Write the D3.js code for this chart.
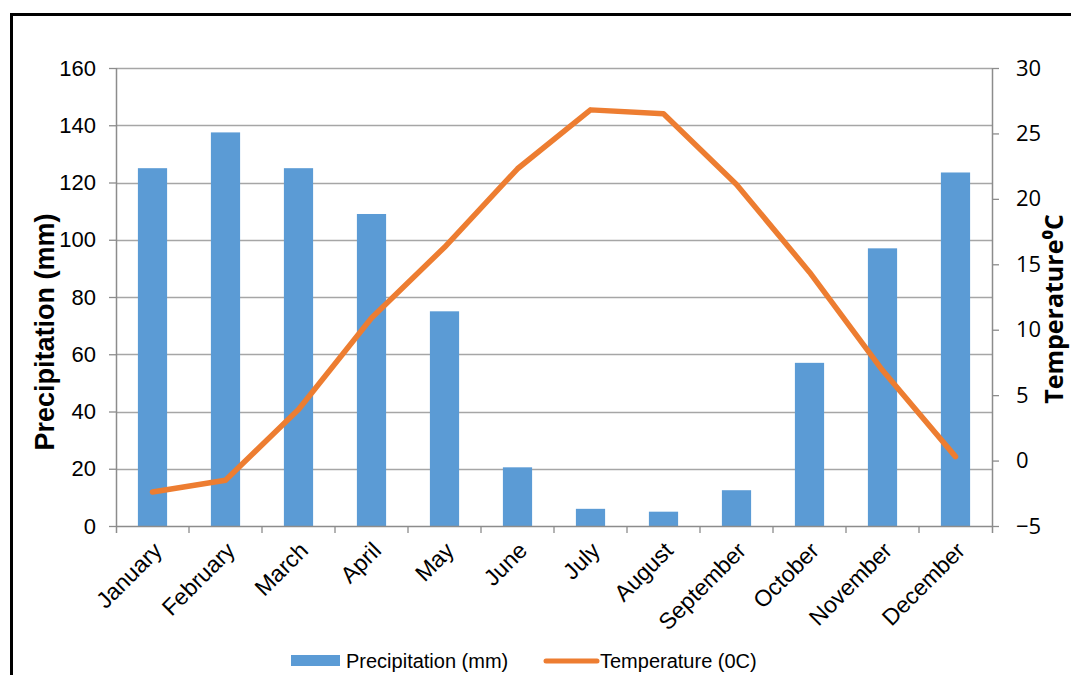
<!DOCTYPE html>
<html>
<head>
<meta charset="utf-8">
<script src="https://cdn.jsdelivr.net/npm/d3@7"></script>
<style>
  html, body { margin: 0; padding: 0; background: #fff; }
  svg { display: block; }
</style>
</head>
<body>
<svg id="chart" width="1071" height="675"></svg>
<script>
// Monthly climate data
const months = ["January", "February", "March", "April", "May", "June",
                "July", "August", "September", "October", "November", "December"];
const precipitation = [125, 137.5, 125, 109, 75, 20.5, 6, 5, 12.5, 57, 97, 123.5];
const temperature = [-2.4, -1.5, 3.9, 10.9, 16.3, 22.3, 26.8, 26.5, 21.1, 14.4, 6.9, 0.3];
const precipTicks = [0, 20, 40, 60, 80, 100, 120, 140, 160];
const tempTicks = [-5, 0, 5, 10, 15, 20, 25, 30];

const svg = d3.select("#chart");
const plotLeft = 116, plotRight = 992, plotTop = 68, plotBottom = 526;
const sans = "'Liberation Sans', Arial, sans-serif";
const altSans = "'Open Sans', 'Liberation Sans', sans-serif";

// Frame lines
svg.append("line").attr("x1", 10).attr("x2", 1071).attr("y1", 14.5).attr("y2", 14.5)
  .attr("stroke", "#000").attr("stroke-width", 3);
svg.append("line").attr("x1", 11.5).attr("x2", 11.5).attr("y1", 13).attr("y2", 675)
  .attr("stroke", "#000").attr("stroke-width", 3);

const xBand = d3.scaleBand().domain(months).range([plotLeft, plotRight]);
const yP = d3.scaleLinear().domain([0, 160]).range([plotBottom, plotTop]);
const yT = d3.scaleLinear().domain([-5, 30]).range([plotBottom, plotTop]);

// Horizontal gridlines
svg.append("g").selectAll("line").data(precipTicks.filter(d => d > 0)).join("line")
  .attr("x1", plotLeft).attr("x2", plotRight)
  .attr("y1", d => Math.round(yP(d)) + 0.5).attr("y2", d => Math.round(yP(d)) + 0.5)
  .attr("stroke", "#a6a6a6").attr("stroke-width", 1.3);

// Bars
svg.append("g").selectAll("rect").data(months).join("rect")
  .attr("x", (d) => xBand(d) + xBand.bandwidth() * 0.3)
  .attr("width", xBand.bandwidth() * 0.4)
  .attr("y", (d, i) => yP(precipitation[i]))
  .attr("height", (d, i) => yP(0) - yP(precipitation[i]))
  .attr("fill", "#5b9bd5");

// Left axis
const axisL = svg.append("g").attr("transform", `translate(${plotLeft},0)`)
  .call(d3.axisLeft(yP).tickValues(precipTicks).tickSize(7).tickPadding(13));
axisL.select(".domain").remove();
axisL.selectAll(".tick line").attr("stroke", "#8c8c8c").attr("stroke-width", 1.3);
axisL.selectAll(".tick text").attr("font-family", sans)
  .attr("font-size", 22).attr("fill", "#000");
svg.append("line").attr("x1", plotLeft + 0.5).attr("x2", plotLeft + 0.5).attr("y1", plotTop).attr("y2", plotBottom + 7)
  .attr("stroke", "#8c8c8c").attr("stroke-width", 1.5);

// Right axis
const axisR = svg.append("g").attr("transform", `translate(${plotRight},0)`)
  .call(d3.axisRight(yT).tickValues(tempTicks).tickSize(7).tickPadding(17));
axisR.select(".domain").remove();
axisR.selectAll(".tick line").attr("stroke", "#8c8c8c").attr("stroke-width", 1.3);
axisR.selectAll(".tick text").attr("font-family", altSans)
  .attr("font-size", 22).attr("fill", "#000");
svg.append("line").attr("x1", plotRight + 0.5).attr("x2", plotRight + 0.5).attr("y1", plotTop).attr("y2", plotBottom + 7)
  .attr("stroke", "#8c8c8c").attr("stroke-width", 1.5);

// Bottom axis with ticks at band boundaries
svg.append("line").attr("x1", plotLeft).attr("x2", plotRight).attr("y1", plotBottom + 0.5).attr("y2", plotBottom + 0.5)
  .attr("stroke", "#8c8c8c").attr("stroke-width", 1.5);
svg.append("g").selectAll("line").data(months.slice(1)).join("line")
  .attr("x1", d => xBand(d)).attr("x2", d => xBand(d))
  .attr("y1", plotBottom).attr("y2", plotBottom + 7)
  .attr("stroke", "#8c8c8c").attr("stroke-width", 1.3);

// Month labels, rotated
svg.append("g").selectAll("text").data(months).join("text")
  .attr("transform", d => `translate(${xBand(d) + xBand.bandwidth() / 2 + 11},${plotBottom + 26}) rotate(-45)`)
  .attr("text-anchor", "end")
  .attr("font-family", sans)
  .attr("font-size", 23).attr("fill", "#000")
  .text(d => d);

// Temperature line
const line = d3.line()
  .x((d, i) => xBand(months[i]) + xBand.bandwidth() / 2)
  .y(d => yT(d));
svg.append("path").datum(temperature)
  .attr("d", line).attr("fill", "none")
  .attr("stroke", "#ed7d31").attr("stroke-width", 5.5)
  .attr("stroke-linejoin", "round").attr("stroke-linecap", "round");

// Axis titles
svg.append("text")
  .attr("transform", `translate(54,332) rotate(-90)`)
  .attr("text-anchor", "middle")
  .attr("font-family", sans)
  .attr("font-size", 27).attr("font-weight", "bold").attr("fill", "#000")
  .text("Precipitation (mm)");
svg.append("text")
  .attr("transform", `translate(1063,309) rotate(-90)`)
  .attr("text-anchor", "middle")
  .attr("font-family", altSans)
  .attr("font-size", 25).attr("font-weight", "bold").attr("fill", "#000")
  .text("Temperature⁰C");

// Legend
const legend = svg.append("g");
legend.append("rect").attr("x", 291).attr("y", 655).attr("width", 49).attr("height", 11)
  .attr("fill", "#5b9bd5");
legend.append("text").attr("x", 346).attr("y", 668)
  .attr("font-family", sans)
  .attr("font-size", 20).attr("fill", "#000").text("Precipitation (mm)");
legend.append("line").attr("x1", 546).attr("x2", 597).attr("y1", 661).attr("y2", 661)
  .attr("stroke", "#ed7d31").attr("stroke-width", 5).attr("stroke-linecap", "round");
legend.append("text").attr("x", 600).attr("y", 668)
  .attr("font-family", sans)
  .attr("font-size", 20).attr("fill", "#000").text("Temperature (0C)");
</script>
</body>
</html>
